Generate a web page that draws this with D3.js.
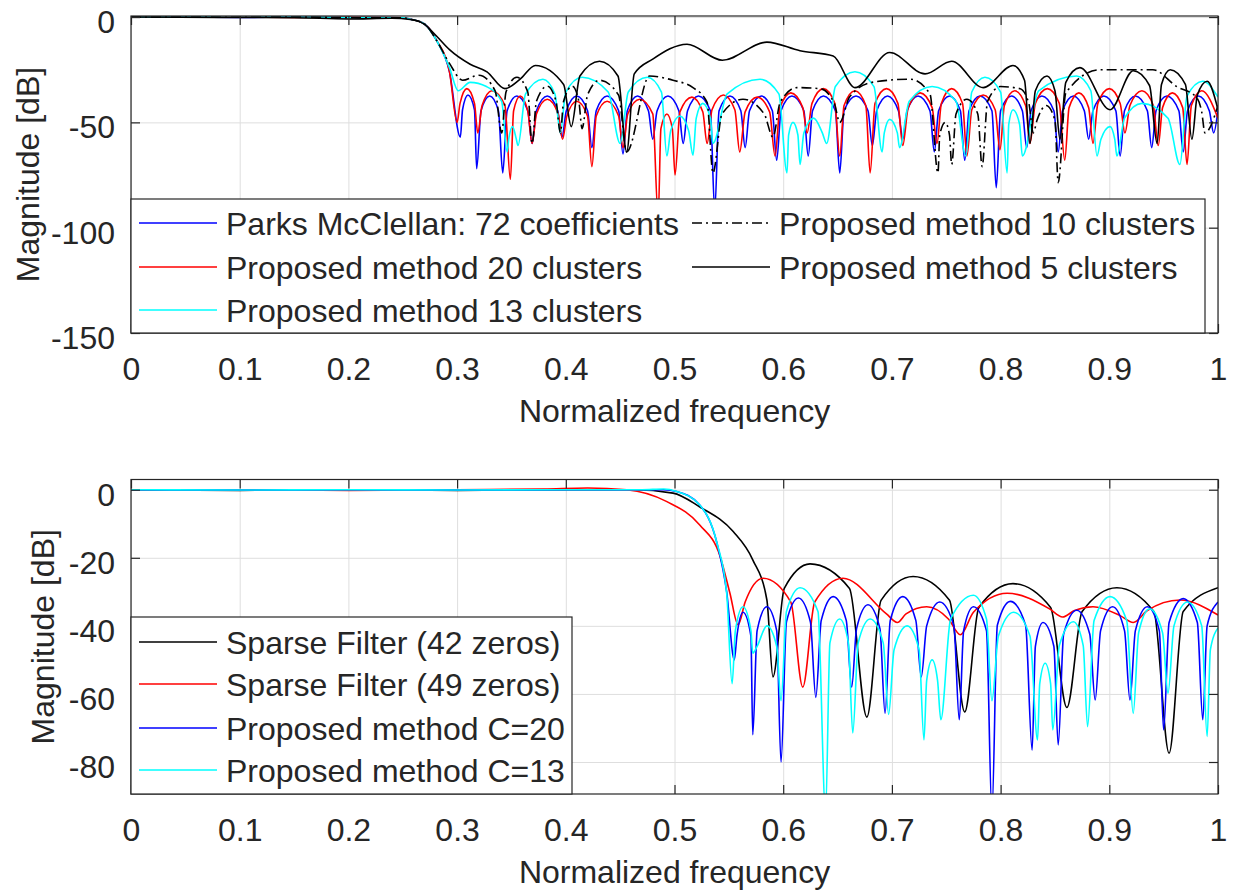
<!DOCTYPE html>
<html>
<head>
<meta charset="utf-8">
<script src="https://cdn.jsdelivr.net/npm/d3@7"></script>
<style>
  body { margin: 0; background: #fff; }
  text { font-family: "Liberation Sans", Arial, sans-serif; fill: #262626; }
</style>
</head>
<body>
<div id="view"></div>
<script>
// tick values
const freqTicks = [0, 0.1, 0.2, 0.3, 0.4, 0.5, 0.6, 0.7, 0.8, 0.9, 1];
const topDbTicks = [0, -50, -100, -150];
const bottomDbTicks = [0, -20, -40, -60, -80];

// top panel: [normalized frequency, magnitude dB]
const parksTop = [[0,0],[0.05,0],[0.1,-0.2],[0.15,0],[0.2,-0.2],[0.25,-0.3],[0.257,-1],[0.27,-3.3],[0.281,-11],[0.293,-26],
  [0.303,-57],[0.305,-44],[0.31,-37],[0.316,-44],[0.318,-72],[0.322,-44.5],[0.33,-37.5],[0.338,-44.5],[0.342,-74],[0.346,-44.5],
  [0.355,-37.5],[0.365,-44.5],[0.369,-60],[0.373,-44.5],[0.383,-37.5],[0.3925,-44.5],[0.3965,-57],[0.4005,-44.5],[0.41,-37.5],
  [0.42,-44.5],[0.424,-62],[0.428,-44.5],[0.438,-37.5],[0.4486,-44.5],[0.4526,-65],[0.4566,-44.5],[0.466,-37.5],[0.476,-44.5],
  [0.48,-58],[0.484,-44.5],[0.494,-37.5],[0.504,-44.5],[0.508,-60],[0.512,-44.5],[0.522,-37.5],[0.533,-44.5],[0.537,-92],
  [0.541,-44.5],[0.551,-37.5],[0.561,-44.5],[0.565,-62],[0.569,-44.5],[0.58,-37.5],[0.59,-44.5],[0.594,-68],[0.598,-44.5],
  [0.608,-37.5],[0.619,-44.5],[0.623,-66],[0.627,-44.5],[0.637,-37.5],[0.648,-44.5],[0.652,-74],[0.656,-44.5],[0.667,-37.5],
  [0.678,-44.5],[0.682,-61],[0.686,-44.5],[0.696,-37.5],[0.706,-44.5],[0.71,-58],[0.714,-44.5],[0.724,-37.5],[0.735,-44.5],
  [0.739,-64],[0.743,-44.5],[0.753,-37.5],[0.763,-44.5],[0.767,-68],[0.771,-44.5],[0.781,-37.5],[0.792,-44.5],[0.796,-81],
  [0.8,-44.5],[0.81,-37.5],[0.82,-44.5],[0.824,-62],[0.828,-44.5],[0.838,-37.5],[0.849,-44.5],[0.853,-64],[0.857,-44.5],
  [0.867,-37.5],[0.877,-44.5],[0.881,-58],[0.885,-44.5],[0.895,-37.5],[0.906,-44.5],[0.91,-66],[0.914,-44.5],[0.924,-37.5],
  [0.935,-44.5],[0.939,-62],[0.943,-44.5],[0.953,-37.5],[0.964,-44.5],[0.968,-64],[0.972,-44.5],[0.982,-37.5],[0.992,-44.5],
  [0.996,-55],[1,-44]];
const clusters20Top = [[0,0],[0.05,-0.1],[0.1,0],[0.15,-0.2],[0.2,0],[0.25,-0.3],[0.257,-1],[0.27,-3.3],[0.281,-11],[0.293,-26],
  [0.3,-50],[0.3027,-41],[0.309,-34],[0.316,-41],[0.319,-55],[0.323,-42],[0.332,-35],[0.344,-42],[0.349,-77],[0.352,-44.5],
  [0.358,-37.5],[0.365,-44.5],[0.369,-60],[0.373,-46],[0.383,-39],[0.393,-46],[0.397,-58],[0.401,-47],[0.41,-40],[0.42,-47],
  [0.424,-71],[0.428,-47],[0.438,-40],[0.4486,-47],[0.4526,-62],[0.457,-46],[0.468,-39],[0.48,-46],[0.485,-95],[0.4875,-53],
  [0.493,-46],[0.498,-53],[0.5005,-75],[0.505,-45],[0.516,-38],[0.526,-45],[0.53,-60],[0.5345,-44],[0.545,-37],[0.5555,-44],
  [0.56,-64],[0.565,-45],[0.576,-38],[0.5875,-45],[0.5925,-66],[0.597,-43],[0.607,-36],[0.618,-43],[0.622,-55],[0.6265,-41],
  [0.637,-34],[0.6475,-41],[0.652,-66],[0.656,-42],[0.666,-35],[0.676,-42],[0.68,-74],[0.6845,-41],[0.695,-34],[0.7055,-41],
  [0.71,-61],[0.715,-43],[0.726,-36],[0.737,-43],[0.7415,-60],[0.7455,-41],[0.755,-34],[0.765,-41],[0.769,-66],[0.7735,-44],
  [0.784,-37],[0.795,-44],[0.7994,-63],[0.8035,-42],[0.813,-35],[0.823,-42],[0.827,-60],[0.832,-41],[0.843,-34],[0.854,-41],
  [0.859,-68],[0.863,-43],[0.872,-36],[0.881,-43],[0.885,-60],[0.8895,-41],[0.9,-34],[0.91,-41],[0.9144,-55],[0.919,-42],
  [0.93,-35],[0.9405,-42],[0.945,-61],[0.949,-43],[0.958,-36],[0.9675,-43],[0.9715,-70],[0.9755,-42],[0.985,-35],[1,-48]];
const clusters13Top = [[0,0],[0.05,0],[0.1,-0.1],[0.15,0],[0.2,-0.2],[0.25,-0.3],[0.257,-1],[0.27,-3.3],[0.281,-11],[0.293,-24],
  [0.301,-35],[0.312,-31],[0.327,-33],[0.341,-40],[0.346,-64],[0.3475,-58],[0.351,-52],[0.3545,-58],[0.356,-61],[0.363,-36.5],
  [0.379,-29.5],[0.39,-36.5],[0.395,-55],[0.4,-35.6],[0.415,-28.6],[0.439,-35.6],[0.45,-60],[0.4575,-35.6],[0.475,-28.6],
  [0.488,-35.6],[0.493,-66],[0.4965,-54],[0.505,-47],[0.513,-54],[0.517,-65.6],[0.52,-48],[0.526,-41],[0.533,-48],[0.5354,-60],
  [0.5485,-36.5],[0.5787,-29.5],[0.596,-36.5],[0.6035,-74],[0.605,-56],[0.609,-50],[0.6135,-56],[0.6155,-70],[0.619,-55],
  [0.628,-48],[0.636,-55],[0.64,-60],[0.648,-33],[0.666,-26],[0.6835,-33],[0.691,-64],[0.693,-55],[0.698,-48.6],[0.705,-55],
  [0.707,-62],[0.716,-40],[0.737,-33],[0.759,-40],[0.768,-66],[0.7735,-35.6],[0.7856,-28.6],[0.8,-35.6],[0.806,-74],[0.8075,-51],
  [0.8114,-44],[0.8175,-51],[0.82,-66],[0.835,-35],[0.87,-28],[0.883,-35],[0.8887,-66],[0.8923,-58],[0.9007,-52],[0.905,-58],
  [0.907,-66],[0.914,-48],[0.93,-41],[0.954,-48],[0.965,-70],[0.9715,-37.5],[0.986,-30.5],[1,-38]];
const clusters10Top = [[0,0],[0.05,0],[0.1,-0.1],[0.15,0],[0.2,-0.3],[0.25,-0.4],[0.257,-1],[0.27,-3.3],[0.281,-11],[0.293,-22],
  [0.305,-30],[0.32,-27.6],[0.335,-35],[0.341,-55],[0.345,-35.6],[0.355,-28.6],[0.365,-35.6],[0.369,-60],[0.373,-40],[0.383,-32.8],
  [0.391,-40],[0.395,-55],[0.398,-40],[0.406,-32.8],[0.412,-40],[0.415,-53],[0.42,-37],[0.431,-30],[0.4485,-37],[0.456,-64],
  [0.477,-28],[0.4986,-30],[0.517,-33.5],[0.53,-40.5],[0.5354,-74],[0.5437,-46],[0.563,-39],[0.5825,-46],[0.5906,-57],
  [0.5972,-40.5],[0.6127,-33.5],[0.634,-34],[0.647,-41],[0.652,-50],[0.661,-38],[0.6817,-31],[0.7167,-29.5],[0.735,-36.5],
  [0.7424,-74],[0.744,-56],[0.749,-50],[0.753,-56],[0.755,-70],[0.759,-46],[0.769,-39],[0.779,-46],[0.783,-71],[0.788,-40],
  [0.8,-33],[0.818,-34],[0.826,-41],[0.83,-55],[0.8335,-49],[0.842,-42],[0.85,-49],[0.853,-78.6],[0.86,-36],[0.8915,-25],
  [0.94,-25],[0.962,-33],[0.98,-38],[0.985,-45],[0.988,-55],[1,-42]];
const clusters5Top = [[0,0],[0.08,-0.2],[0.15,-0.3],[0.2,-0.9],[0.24,-0.6],[0.257,-1.2],[0.27,-3.5],[0.281,-9],[0.293,-15.5],
  [0.312,-22.4],[0.3275,-26],[0.344,-34],[0.358,-29.5],[0.372,-23],[0.398,-32],[0.405,-52],[0.413,-28],[0.431,-21],[0.448,-28],
  [0.456,-64],[0.463,-27],[0.48,-20],[0.5115,-12.9],[0.544,-20.5],[0.585,-11.9],[0.6155,-16],[0.646,-18.5],[0.666,-33.5],
  [0.698,-16.8],[0.7305,-27],[0.755,-21],[0.784,-33.5],[0.8114,-23],[0.822,-30],[0.827,-60],[0.832,-35],[0.8427,-28],[0.85,-35],
  [0.8546,-58],[0.86,-31],[0.873,-24],[0.9007,-44],[0.922,-25.5],[0.937,-32.5],[0.944,-60],[0.948,-32],[0.956,-25],[0.97,-32],
  [0.976,-58],[0.981,-37],[0.99,-30.5],[1,-44]];

// bottom panel
const sparse42 = [[0,0],[0.1,-0.2],[0.2,0],[0.3,-0.2],[0.4,0],[0.462,0],[0.4986,-1],[0.523,-5],[0.554,-12.3],[0.572,-20.6],
  [0.585,-32.4],[0.5906,-55],[0.601,-29],[0.6247,-21.8],[0.661,-29],[0.677,-66.8],[0.69,-32.5],[0.7195,-25.5],[0.753,-32.5],
  [0.767,-65.3],[0.78,-34.6],[0.8114,-27.6],[0.846,-34.6],[0.861,-64],[0.875,-35.8],[0.907,-28.8],[0.941,-35.8],[0.955,-77.4],
  [0.968,-35.8],[1,-28.8]];
const sparse49 = [[0,0],[0.1,0],[0.2,-0.2],[0.3,0],[0.38,0.2],[0.42,0.5],[0.456,0],[0.493,-3.5],[0.523,-10.3],[0.542,-19.6],
  [0.551,-30.4],[0.5585,-39.7],[0.565,-33],[0.5815,-26],[0.607,-33],[0.618,-58],[0.629,-33],[0.655,-26],[0.695,-36.5],[0.705,-39],
  [0.713,-36.5],[0.732,-34.4],[0.752,-38],[0.763,-42.6],[0.775,-36],[0.806,-30.4],[0.845,-35],[0.857,-37.4],[0.868,-35.5],
  [0.885,-34.4],[0.91,-37],[0.922,-39],[0.935,-35.5],[0.965,-32.4],[1,-36.8]];
const methodC20 = [[0,0],[0.1,-0.1],[0.2,0],[0.3,-0.1],[0.4,0],[0.47,0],[0.49,0],[0.502,-0.5],[0.523,-4.4],[0.539,-15.6],
  [0.548,-30],[0.555,-50],[0.5574,-43],[0.563,-36],[0.5703,-43],[0.572,-72],[0.576,-41.4],[0.585,-34.4],[0.594,-41.4],[0.598,-80],
  [0.603,-38.8],[0.614,-31.8],[0.625,-38.8],[0.63,-61],[0.635,-38.4],[0.646,-31.4],[0.658,-38.4],[0.663,-58],[0.6675,-40.8],
  [0.678,-33.8],[0.689,-40.8],[0.6937,-65.7],[0.6985,-38.4],[0.71,-31.4],[0.722,-38.4],[0.727,-55],[0.732,-40],[0.744,-33],
  [0.757,-40],[0.762,-67.6],[0.766,-41.4],[0.775,-34.4],[0.787,-41.4],[0.792,-95],[0.797,-39.8],[0.809,-32.8],[0.823,-39.8],
  [0.829,-76.5],[0.832,-46],[0.839,-39],[0.849,-46],[0.853,-75],[0.858,-42.4],[0.87,-35.4],[0.882,-42.4],[0.887,-61.8],
  [0.892,-41.4],[0.903,-34.4],[0.914,-41.4],[0.919,-61.8],[0.924,-41.4],[0.935,-34.4],[0.946,-41.4],[0.95,-70.6],[0.955,-39],
  [0.968,-32],[0.981,-39],[0.986,-67.6],[0.99,-40],[1,-33]];
const methodC13 = [[0,0],[0.1,-0.1],[0.2,0],[0.3,-0.1],[0.4,0],[0.47,0],[0.49,0.2],[0.502,-0.5],[0.523,-4.4],[0.539,-15.6],
  [0.548,-30.4],[0.553,-57],[0.556,-41.4],[0.563,-34.4],[0.5703,-41.4],[0.572,-48],[0.576,-46],[0.585,-40],[0.594,-46],[0.598,-62],
  [0.603,-35.8],[0.6155,-28.8],[0.632,-35.8],[0.639,-95],[0.643,-45],[0.652,-38],[0.66,-45],[0.664,-71.5],[0.669,-45],[0.68,-38],
  [0.692,-45],[0.697,-66],[0.702,-47],[0.714,-40],[0.725,-47],[0.7295,-73.5],[0.732,-56],[0.737,-50],[0.742,-56],[0.745,-67.6],
  [0.754,-38],[0.775,-31],[0.787,-38],[0.792,-62],[0.798,-43],[0.812,-36],[0.827,-43],[0.834,-73.5],[0.836,-57],[0.841,-51],
  [0.846,-57],[0.848,-70.6],[0.854,-45.8],[0.867,-38.8],[0.876,-45.8],[0.88,-69.6],[0.886,-38.4],[0.9007,-31.4],[0.916,-38.4],
  [0.922,-65.7],[0.927,-42],[0.937,-35],[0.949,-42],[0.954,-59.8],[0.9595,-40],[0.972,-33],[0.985,-40],[0.99,-72.5],[0.993,-47],
  [1,-40.6]];

const topLabels = ["Parks McClellan: 72 coefficients", "Proposed method 20 clusters", "Proposed method 13 clusters",
  "Proposed method 10 clusters", "Proposed method 5 clusters"];
const bottomLabels = ["Sparse Filter (42 zeros)", "Sparse Filter (49 zeros)", "Proposed method C=20", "Proposed method C=13"];

const dashDot = "10,4,2,4";
const frameColor = "#262626";
const gridColor = "#dedede";
const fontSize = 32;

const svg = d3.select("#view").append("svg")
    .attr("width", 1236)
    .attr("height", 893);

function drawPanel(p) {
    const x = d3.scaleLinear().domain([0, 1]).range([p.left, p.right]);
    const y = d3.scaleLinear().domain(p.yDomain).range([p.bottom, p.top]);
    const w = p.right - p.left;
    const h = p.bottom - p.top;
    const g = svg.append("g");

    // grid
    g.append("g")
        .attr("transform", `translate(0,${p.bottom})`)
        .call(d3.axisBottom(x).tickValues(freqTicks).tickSize(-h).tickFormat(""))
        .call(a => a.select(".domain").remove())
        .selectAll("line").attr("stroke", gridColor);
    g.append("g")
        .attr("transform", `translate(${p.left},0)`)
        .call(d3.axisLeft(y).tickValues(p.yTicks).tickSize(-w).tickFormat(""))
        .call(a => a.select(".domain").remove())
        .selectAll("line").attr("stroke", gridColor);

    // curves
    const clipId = "clip" + p.id;
    g.append("clipPath").attr("id", clipId)
        .append("rect").attr("x", p.left).attr("y", p.top).attr("width", w).attr("height", h);
    const line = d3.line()
        .x(d => x(d[0]))
        .y(d => y(d[1]))
        .curve(d3.curveMonotoneX);
    const curves = g.append("g").attr("clip-path", `url(#${clipId})`);
    p.series.forEach(s => {
        curves.append("path")
            .datum(s.data)
            .attr("fill", "none")
            .attr("stroke", s.color)
            .attr("stroke-width", 1.6)
            .attr("stroke-dasharray", s.dash || null)
            .attr("d", line);
    });

    // frame and inward ticks on all sides
    g.append("rect")
        .attr("x", p.left).attr("y", p.top).attr("width", w).attr("height", h)
        .attr("fill", "none").attr("stroke", frameColor).attr("stroke-width", 1.2);
    const tickStyle = a => {
        a.select(".domain").remove();
        a.selectAll("line").attr("stroke", frameColor).attr("stroke-width", 1.2);
    };
    g.append("g").attr("transform", `translate(0,${p.bottom})`)
        .call(d3.axisBottom(x).tickValues(freqTicks).tickSize(-9).tickFormat(""))
        .call(tickStyle);
    g.append("g").attr("transform", `translate(0,${p.top})`)
        .call(d3.axisTop(x).tickValues(freqTicks).tickSize(-9).tickFormat(""))
        .call(tickStyle);
    g.append("g").attr("transform", `translate(${p.left},0)`)
        .call(d3.axisLeft(y).tickValues(p.yTicks).tickSize(-9).tickFormat(""))
        .call(tickStyle);
    g.append("g").attr("transform", `translate(${p.right},0)`)
        .call(d3.axisRight(y).tickValues(p.yTicks).tickSize(-9).tickFormat(""))
        .call(tickStyle);

    // tick labels
    const xl = g.append("g").attr("transform", `translate(0,${p.bottom})`)
        .call(d3.axisBottom(x).tickValues(freqTicks).tickSize(0).tickFormat(d => String(d)));
    xl.select(".domain").remove();
    xl.selectAll("text").attr("y", 47).attr("dy", null)
        .attr("font-size", fontSize).attr("font-family", null).style("fill", frameColor);
    const yl = g.append("g").attr("transform", `translate(${p.left},0)`)
        .call(d3.axisLeft(y).tickValues(p.yTicks).tickSize(0).tickFormat(d => String(d)));
    yl.select(".domain").remove();
    yl.selectAll("text").attr("x", -16).attr("dy", null).attr("y", 15.5)
        .attr("font-size", fontSize).attr("font-family", null).style("fill", frameColor);

    // axis titles
    g.append("text")
        .attr("x", (p.left + p.right) / 2).attr("y", p.bottom + 89)
        .attr("text-anchor", "middle").attr("font-size", fontSize)
        .text("Normalized frequency");
    g.append("text")
        .attr("transform", `translate(${p.yTitleX},${(p.top + p.bottom) / 2}) rotate(-90)`)
        .attr("text-anchor", "middle").attr("font-size", fontSize)
        .text("Magnitude [dB]");

    // legend
    const lg = g.append("g");
    lg.append("rect")
        .attr("x", p.legend.x).attr("y", p.legend.y)
        .attr("width", p.legend.w).attr("height", p.bottom - p.legend.y)
        .attr("fill", "#fff").attr("stroke", frameColor).attr("stroke-width", 1.2);
    p.legend.items.forEach(it => {
        const s = p.series[it.index];
        lg.append("line")
            .attr("x1", it.x).attr("x2", it.x + 78)
            .attr("y1", it.y).attr("y2", it.y)
            .attr("stroke", s.color).attr("stroke-width", 1.6)
            .attr("stroke-dasharray", s.dash || null);
        lg.append("text")
            .attr("x", it.x + 87).attr("y", it.y + 12)
            .attr("font-size", fontSize)
            .text(s.label);
    });
}

drawPanel({
    id: "top", left: 131, right: 1218, top: 16, bottom: 333,
    yDomain: [-150, 0.5], yTicks: topDbTicks, yTitleX: 39,
    series: [
        {data: parksTop, color: "#0000ff", label: topLabels[0]},
        {data: clusters20Top, color: "#ff0000", label: topLabels[1]},
        {data: clusters13Top, color: "#00ffff", label: topLabels[2]},
        {data: clusters10Top, color: "#000000", dash: dashDot, label: topLabels[3]},
        {data: clusters5Top, color: "#000000", label: topLabels[4]}
    ],
    legend: {
        x: 131, y: 199, w: 1074,
        items: [
            {index: 0, x: 139, y: 223},
            {index: 1, x: 139, y: 267},
            {index: 2, x: 139, y: 310},
            {index: 3, x: 692, y: 223},
            {index: 4, x: 692, y: 267}
        ]
    }
});

drawPanel({
    id: "bottom", left: 131, right: 1218, top: 479.5, bottom: 794,
    yDomain: [-89.4, 3], yTicks: bottomDbTicks, yTitleX: 54,
    series: [
        {data: sparse42, color: "#000000", label: bottomLabels[0]},
        {data: sparse49, color: "#ff0000", label: bottomLabels[1]},
        {data: methodC20, color: "#0000ff", label: bottomLabels[2]},
        {data: methodC13, color: "#00ffff", label: bottomLabels[3]}
    ],
    legend: {
        x: 131, y: 617, w: 441,
        items: [
            {index: 0, x: 139, y: 642},
            {index: 1, x: 139, y: 684},
            {index: 2, x: 139, y: 728},
            {index: 3, x: 139, y: 770}
        ]
    }
});
</script>
</body>
</html>
